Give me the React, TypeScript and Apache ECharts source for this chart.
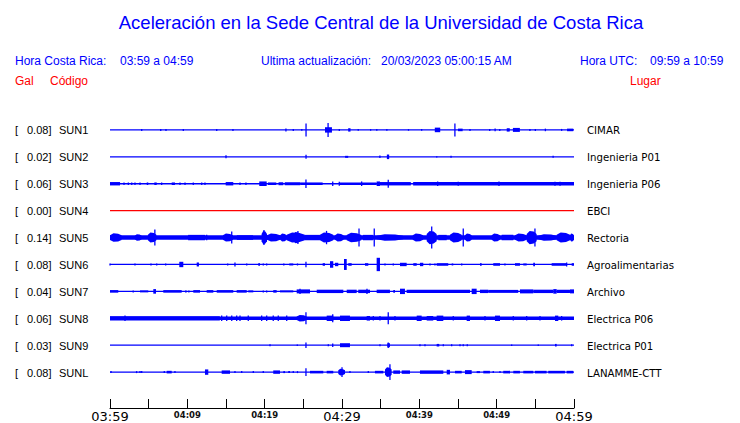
import React, { useEffect, useRef } from "react";
import * as echarts from "echarts";

// ---------- data ----------
const STATIONS = ["SUN1", "SUN2", "SUN3", "SUN4", "SUN5", "SUN6", "SUN7", "SUN8", "SUN9", "SUNL"];
const PEAK_GAL = [0.08, 0.02, 0.06, 0.0, 0.14, 0.08, 0.04, 0.06, 0.03, 0.08];
const PLACES = [
  "CIMAR", "Ingenieria P01", "Ingenieria P06", "EBCI", "Rectoria",
  "Agroalimentarias", "Archivo", "Electrica P06", "Electrica P01", "LANAMME-CTT",
];
// background noise half-amplitude of each trace (relative units)
const NOISE = [0.65, 0.65, 0.75, 0.65, 2.2, 0.65, 0.7, 1.7, 0.65, 0.65];
const TRACE_COLORS = ["#0000ff", "#0000ff", "#0000ff", "#ff0000", "#0000ff", "#0000ff", "#0000ff", "#0000ff", "#0000ff", "#0000ff"];

// bursts: [start minute, end minute, half amplitude] (minutes after 03:59)
const SUN1_BURSTS = [
  [4.1, 4.1, 1], [6.56, 6.56, 1], [7.24, 7.24, 1], [9.48, 9.48, 1], [13.8, 13.8, 1], [15.9, 15.9, 1],
  [22.7, 22.8, 1.5], [23.7, 23.7, 1], [24.8, 24.8, 0.8], [25.35, 25.35, 6.5], [27.8, 28.7, 2.7], [28.2, 28.2, 7],
  [29.65, 29.65, 1], [30.8, 31.1, 1.7], [32.1, 32.1, 0.8], [33.7, 33.7, 0.8], [34.5, 34.5, 0.8], [35.8, 35.8, 0.8],
  [38.6, 38.6, 0.8], [40.3, 40.3, 0.8], [42.0, 42.7, 2.3], [44.6, 44.6, 6.5], [45.0, 45.6, 1.3], [46.55, 46.55, 1],
  [49.1, 49.1, 1], [49.8, 49.8, 1.3], [50.4, 50.4, 1], [51.3, 51.7, 1.7], [52.1, 53.0, 2], [54.3, 54.3, 1],
  [55.0, 55.0, 1], [56.3, 56.3, 1.3], [58.4, 58.4, 1], [59.1, 59.9, 1.3],
];
const SUN2_BURSTS = [
  [15.0, 15.0, 1.5], [25.35, 25.35, 2], [30.4, 30.8, 1], [34.9, 34.9, 1.3], [35.8, 36.1, 2.3],
  [42.25, 42.25, 0.7], [44.1, 44.1, 1], [57.3, 57.3, 1],
];
const SUN3_BURSTS = [
  [0, 1.3, 1.7], [1.81, 1.81, 1.3], [2.37, 2.37, 1.3], [2.81, 2.81, 1.3], [3.23, 3.23, 1.3], [3.88, 3.88, 1.3],
  [4.75, 4.95, 1.3], [5.73, 6.04, 1.3], [6.68, 6.68, 1.3], [7.98, 8.4, 1.3], [9.05, 9.05, 1.3], [9.7, 9.7, 1.3],
  [10.77, 10.77, 1.3], [11.86, 11.86, 1.3], [12.28, 12.28, 1.3], [14.96, 15.94, 1.7], [16.81, 16.81, 1.3],
  [17.58, 17.58, 1.3], [19.3, 20.26, 2.3], [20.43, 21.5, 1.3], [21.8, 22.4, 1.5], [22.6, 24.6, 1.5],
  [25.34, 25.34, 4.3], [24.6, 27.5, 1.3], [28.8, 28.8, 2.3], [29.65, 29.65, 2], [29.74, 34.48, 1.3],
  [32.54, 32.54, 2.3], [34.48, 34.91, 2.3], [35.98, 35.98, 4], [34.91, 38.9, 1.7], [39.2, 60, 1.7],
  [42.37, 42.37, 2.3], [45.03, 45.03, 2], [50.3, 50.3, 2.3], [57.54, 57.54, 2], [58.19, 58.19, 2],
];
const SUN4_BURSTS: number[][] = [];
const SUN5_BURSTS = [
  [0, 1.5, 4.3], [3.2, 4.1, 3.3], [4.9, 6.0, 5], [5.8, 5.8, 8], [10.1, 12.3, 2.7], [12.5, 12.5, 2.7],
  [14.6, 15.9, 4], [15.74, 15.74, 6], [16.4, 18.5, 2.3], [19.6, 20.3, 6.7], [19.91, 19.91, 7.5],
  [20.3, 22.0, 4], [22.0, 22.85, 4], [22.85, 25.2, 5], [23.7, 24.6, 5.7], [24.3, 24.3, 6.5],
  [25.2, 27.15, 2.7], [27.15, 28.87, 5], [28.0, 28.0, 6.7], [29.1, 30.2, 4], [30.6, 32.5, 4.7],
  [32.2, 32.2, 9], [32.7, 34.0, 2.7], [34.17, 34.17, 9], [34.5, 37.9, 3.3], [39.14, 40.5, 4],
  [40.95, 42.24, 6.7], [41.6, 41.6, 11], [42.45, 43.54, 2.7], [43.96, 45.48, 5], [45.68, 45.68, 9],
  [45.9, 46.77, 4], [49.35, 50.43, 4], [50.65, 52.15, 2.7], [52.37, 53.88, 4], [53.88, 55.17, 6.7],
  [54.95, 54.95, 9], [55.38, 57.76, 3.3], [57.76, 59.48, 5], [59.48, 60, 4],
];
const SUN6_BURSTS = [
  [0, 0, 1], [3.23, 3.23, 1], [5.3, 5.3, 1], [6.04, 6.04, 1], [7.2, 7.2, 1], [8.96, 9.48, 2.7],
  [11.21, 11.5, 2], [15.22, 15.22, 1], [16.16, 16.16, 2], [17.68, 17.68, 1], [19.17, 19.4, 1.3],
  [19.82, 19.82, 1], [20.26, 20.26, 1], [22.41, 22.54, 1], [23.18, 23.7, 1], [24.22, 24.27, 1],
  [25.34, 25.34, 2.7], [27.5, 27.8, 1.3], [28.45, 28.87, 3.3], [29.09, 29.52, 1.7], [30.26, 30.61, 5.5],
  [30.81, 31.25, 1.3], [32.97, 33.4, 1.3], [34.48, 34.91, 6.7], [35.56, 35.56, 1], [36.63, 36.63, 1],
  [37.5, 38.36, 1.7], [39.22, 39.66, 1.3], [40.08, 40.51, 1.7], [41.38, 41.38, 1], [42.02, 42.02, 1],
  [42.24, 43.74, 1.3], [44.18, 44.39, 1], [45.48, 45.48, 1], [47.84, 48.06, 1.3], [49.56, 50.43, 1.3],
  [51.07, 51.07, 1], [52.37, 53.01, 1.3], [53.44, 53.88, 1], [54.73, 54.95, 1.7], [57.11, 59.05, 1.3],
  [59.05, 59.05, 2], [59.7, 60, 1.3],
];
const SUN7_BURSTS = [
  [0, 1.07, 1.3], [3.0, 3.0, 1], [3.88, 4.95, 1], [5.6, 5.95, 2.3], [6.89, 9.27, 1.3], [9.7, 9.92, 1],
  [10.2, 10.2, 1], [10.77, 11.64, 1.3], [12.5, 13.36, 1.3], [13.8, 15.94, 1.3], [16.38, 17.68, 1.3],
  [17.88, 18.53, 1], [19.82, 19.82, 1], [20.26, 20.26, 1], [21.11, 21.55, 1.3], [21.98, 23.7, 1],
  [24.14, 25.86, 2], [24.57, 24.57, 2.7], [26.73, 30.17, 1.7], [30.61, 31.9, 1.7], [32.1, 33.62, 1.7],
  [33.23, 33.23, 2.7], [34.48, 36.2, 1.7], [36.63, 36.85, 1.3], [37.5, 38.14, 2.7], [38.36, 46.55, 1.7],
  [46.77, 47.41, 2.7], [47.84, 48.91, 1.7], [48.91, 52.79, 1.5], [53.01, 54.73, 2], [54.73, 57.32, 1.7],
  [57.32, 57.76, 2.3], [57.76, 59.48, 1.7], [59.48, 60, 2],
];
const SUN8_BURSTS = [
  [0, 14.2, 2.1], [1.94, 1.94, 2.7], [14.44, 14.44, 2.7], [15.09, 15.09, 2.7], [15.74, 15.74, 2.7],
  [16.38, 16.38, 2.7], [16.81, 16.81, 2.7], [17.88, 17.88, 2.7], [19.61, 19.61, 2.7], [20.26, 20.26, 2.7],
  [21.11, 21.11, 2.7], [21.76, 21.76, 2.7], [22.85, 22.85, 2.7], [24.14, 25.43, 3.3], [25.34, 25.34, 6],
  [28.02, 28.87, 2.7], [28.8, 28.8, 4], [29.74, 31.03, 2.7], [33.19, 33.62, 2.3], [34.05, 34.05, 2.3],
  [34.91, 34.91, 2.3], [35.98, 35.98, 6], [36.85, 36.85, 2.3], [39.66, 40.3, 2.7], [40.95, 41.8, 2.3],
  [42.24, 43.1, 2.7], [44.39, 44.39, 2.3], [46.12, 46.55, 2.7], [48.49, 48.49, 2.3], [49.78, 50.43, 2.7],
  [52.15, 52.15, 2.3], [53.88, 53.88, 2.3], [55.6, 55.6, 2.3], [57.54, 57.97, 2.7], [58.4, 58.4, 2.3],
];
const SUN9_BURSTS = [
  [20.69, 20.69, 1], [24.22, 24.22, 0.8], [25.34, 25.34, 2.7], [28.23, 28.23, 1], [28.8, 28.8, 1.7],
  [29.74, 31.03, 2], [34.91, 34.91, 1], [35.86, 36.2, 2], [35.98, 35.98, 2.7], [40.08, 40.08, 1],
  [40.73, 40.73, 1], [42.24, 42.58, 1.3], [43.1, 43.1, 1], [44.18, 44.18, 1], [45.26, 45.26, 1],
  [45.68, 45.68, 1], [46.2, 46.2, 1], [51.94, 51.94, 0.8], [55.38, 55.38, 0.8], [57.54, 57.76, 1.3],
  [59.7, 59.7, 1],
];
const SUNL_BURSTS = [
  [0.13, 0.13, 1], [3.44, 3.44, 1], [3.88, 3.88, 1], [4.1, 4.1, 1], [7.02, 7.02, 1], [7.33, 7.98, 1.3],
  [8.4, 8.4, 1], [12.28, 12.71, 2.7], [14.44, 15.52, 1.7], [16.16, 16.16, 1], [17.03, 17.03, 1],
  [18.53, 18.53, 1], [19.82, 19.82, 1], [21.11, 21.98, 1.7], [22.41, 22.63, 1], [23.05, 23.27, 1],
  [23.7, 23.7, 1], [24.22, 24.27, 1], [25.34, 25.34, 4], [25.86, 27.58, 1.3], [28.02, 28.87, 1.3],
  [29.52, 30.39, 3.3], [30.0, 30.0, 5], [31.03, 31.03, 1], [33.4, 33.4, 1], [34.26, 35.34, 1.3],
  [35.56, 36.42, 5], [36.2, 36.2, 8], [36.63, 37.5, 1.7], [37.72, 38.79, 1.7], [40.08, 43.1, 1.7],
  [43.54, 43.96, 2.3], [44.61, 45.48, 1.3], [45.9, 46.77, 2], [47.41, 47.84, 1], [48.27, 49.13, 1.3],
  [49.56, 49.56, 1], [50.43, 50.43, 1], [50.85, 51.72, 1.3], [52.15, 53.01, 1.3], [53.44, 54.73, 1.3],
  [54.95, 56.46, 1.3], [56.67, 58.83, 1.3], [59.05, 59.9, 1.3],
];
const BURSTS = [
  SUN1_BURSTS, SUN2_BURSTS, SUN3_BURSTS, SUN4_BURSTS, SUN5_BURSTS,
  SUN6_BURSTS, SUN7_BURSTS, SUN8_BURSTS, SUN9_BURSTS, SUNL_BURSTS,
];

const START_MINUTE = 3 * 60 + 59; // 03:59 local
const DURATION = 60;
const TICK_STEP = 5;
const TRACE_GAP = 27;

const BLUE = "#0000ff";
const RED = "#ff0000";

function clock(t: number) {
  const m = Math.round(START_MINUTE + t);
  const hh = Math.floor(m / 60) % 24;
  const mm = m % 60;
  return String(hh).padStart(2, "0") + ":" + String(mm).padStart(2, "0");
}

export default function App() {
  const ref = useRef<HTMLDivElement>(null);

  useEffect(() => {
    if (!ref.current) return;
    const chart = echarts.init(ref.current, null, { renderer: "svg" });

    const n = STATIONS.length;
    const items: number[][] = [];
    for (let i = 0; i < n; i++) {
      const base = (n - 1 - i) * TRACE_GAP;
      // flag 0 = steady band, 1 = burst
      items.push([0, DURATION, base, NOISE[i], i, 0]);
      for (const b of BURSTS[i]) items.push([b[0], b[1], base, b[2], i, 1]);
    }

    const headFont = "Liberation Sans, Arial, sans-serif";
    const hText = (text: string, x: number, y: number, fill: string, size = 12, align = "left") => ({
      type: "text",
      x,
      y,
      style: { text, fill, font: `${size}px ${headFont}`, textAlign: align, textVerticalAlign: "middle" },
    });

    const option: any = {
      animation: false,
      backgroundColor: "#ffffff",
      graphic: [
        hText("Aceleración en la Sede Central de la Universidad de Costa Rica", 381, 22, BLUE, 18.5, "center"),
        hText("Hora Costa Rica:", 15, 61, BLUE),
        hText(`${clock(0)} a ${clock(DURATION)}`, 120, 61, BLUE),
        hText("Ultima actualización:", 261, 61, BLUE),
        hText("20/03/2023 05:00:15 AM", 381, 61, BLUE),
        hText("Hora UTC:", 580, 61, BLUE),
        hText("09:59 a 10:59", 650, 61, BLUE),
        hText("Gal", 15, 81, RED),
        hText("Código", 50, 81, RED),
        hText("Lugar", 630, 81, RED),
      ],
      grid: [
        { left: 110, right: 166, top: 103, bottom: 14 },
        { left: 110, right: 166, top: 116.5, height: 270 },
      ],
      xAxis: [
        {
          gridIndex: 0,
          type: "value",
          min: 0,
          max: DURATION,
          interval: TICK_STEP,
          splitLine: { show: false },
          axisLine: { show: true, onZero: false, lineStyle: { color: "#000", width: 1 } },
          axisTick: { show: true, inside: true, length: 9, lineStyle: { color: "#000", width: 1 } },
          axisLabel: {
            show: true,
            margin: 2,
            showMinLabel: true,
            showMaxLabel: true,
            hideOverlap: false,
            formatter: (v: number) => {
              if (v % 10 !== 0) return "";
              return v % 30 === 0 ? `{big|${clock(v)}}` : `{small|${clock(v)}}`;
            },
            rich: {
              big: { fontFamily: "DejaVu Sans", fontSize: 13, lineHeight: 13, color: "#000" },
              small: { fontFamily: "DejaVu Sans", fontSize: 8.5, fontWeight: "bold", lineHeight: 10, color: "#111" },
            },
          },
        },
        { gridIndex: 1, type: "value", show: false, min: 0, max: 1 },
      ],
      yAxis: [
        { gridIndex: 0, type: "value", show: false, min: -36, max: 270 },
        {
          gridIndex: 1,
          type: "category",
          inverse: true,
          position: "left",
          data: STATIONS,
          axisLine: { show: false },
          axisTick: { show: false },
          splitLine: { show: false },
          axisLabel: {
            margin: 95,
            align: "left",
            interval: 0,
            formatter: (v: string, idx: number) => `{a|[}{b|${PEAK_GAL[idx].toFixed(2)}]}{c|${v}}`,
            rich: {
              a: { width: 12, fontFamily: "Liberation Sans", fontSize: 11, color: "#000" },
              b: { width: 32, fontFamily: "Liberation Sans", fontSize: 11, color: "#000" },
              c: { fontFamily: "Liberation Sans", fontSize: 11, color: "#000" },
            },
          },
        },
        {
          gridIndex: 1,
          type: "category",
          inverse: true,
          position: "right",
          data: PLACES,
          axisLine: { show: false },
          axisTick: { show: false },
          splitLine: { show: false },
          axisLabel: {
            margin: 13,
            align: "left",
            interval: 0,
            fontFamily: "DejaVu Sans",
            fontSize: 10.2,
            color: "#000",
          },
        },
      ],
      series: [
        {
          type: "custom",
          xAxisIndex: 0,
          yAxisIndex: 0,
          data: items,
          encode: { x: [0, 1], y: 2 },
          clip: false,
          renderItem: (_params: any, api: any) => {
            const t0 = api.value(0);
            const t1 = api.value(1);
            const base = api.value(2);
            const amp = api.value(3);
            const idx = api.value(4);
            const burst = api.value(5);
            const p0 = api.coord([t0, base + amp]);
            const p1 = api.coord([t1, base - amp]);
            const pc = api.coord([t0, base]);
            const fill = TRACE_COLORS[idx];
            let x = p0[0];
            let w = p1[0] - p0[0];
            if (w < 1.3) {
              x = (p0[0] + p1[0]) / 2 - 0.65;
              w = 1.3;
            }
            let y = p0[1];
            let h = p1[1] - p0[1];
            if (h < 1.3) {
              y = (p0[1] + p1[1]) / 2 - 0.65;
              h = 1.3;
            }
            const half = h / 2;
            // wide, large bursts are drawn as tapered spindles like a seismic wave packet
            if (burst === 1 && w > 4 && half > 3) {
              const cy = pc[1];
              const inner = Math.max(half * 0.55, 1.5);
              const pts = [
                [x, cy - inner],
                [x + w * 0.3, cy - half],
                [x + w * 0.7, cy - half * 0.9],
                [x + w, cy - inner],
                [x + w, cy + inner],
                [x + w * 0.7, cy + half * 0.9],
                [x + w * 0.3, cy + half],
                [x, cy + inner],
              ];
              return { type: "polygon", shape: { points: pts }, style: { fill } };
            }
            return {
              type: "rect",
              shape: { x, y, width: w, height: h },
              style: { fill },
            };
          },
        },
      ],
    };

    chart.setOption(option);
    return () => chart.dispose();
  }, []);

  return (
    <div
      ref={ref}
      style={{ position: "fixed", left: 0, top: 0, width: 740, height: 423, background: "#fff" }}
    />
  );
}
